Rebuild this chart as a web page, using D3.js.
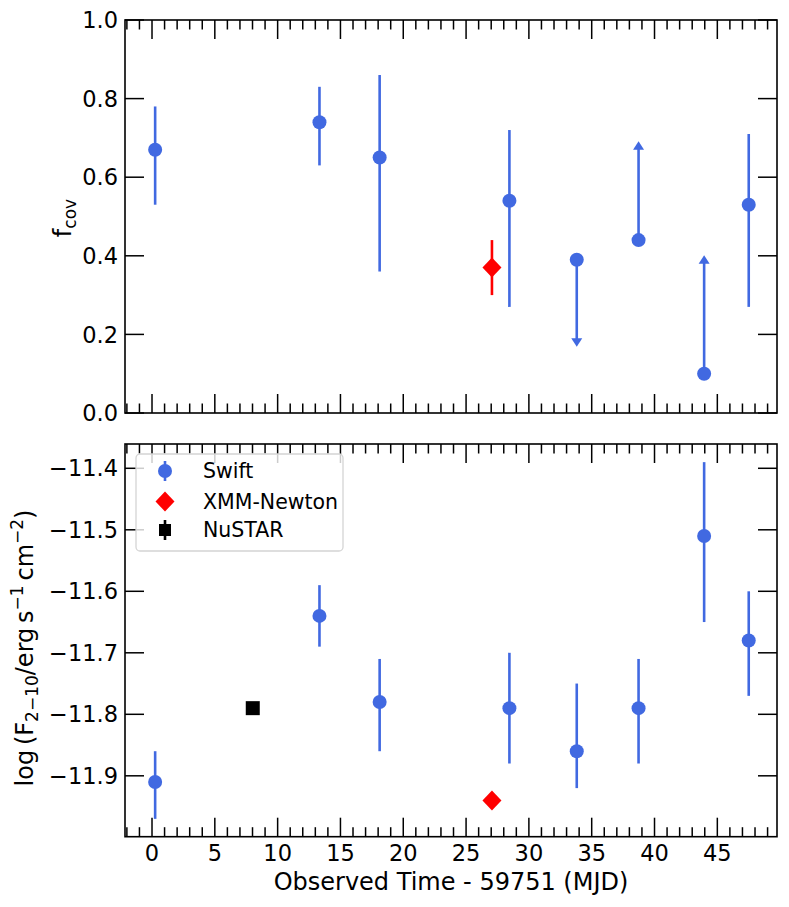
<!DOCTYPE html>
<html>
<head>
<meta charset="utf-8">
<script src="https://cdn.jsdelivr.net/npm/d3@7"></script>
<style>
  body { margin: 0; background: #fff; }
  svg { font-family: "DejaVu Sans", sans-serif; }
</style>
</head>
<body>
<div id="chart"></div>
<script>
// Observed time (days since MJD 59751)
const swiftTime = [0.25, 13.33, 18.12, 28.45, 33.81, 38.73, 43.95, 47.5];
const xmmTime = [27.06];
const nustarTime = [8.02];

// Covering fraction, with limits: 'upper' = arrow down, 'lower' = arrow up
const swiftFcov = [0.67, 0.74, 0.65, 0.54, 0.39, 0.44, 0.10, 0.53];
const swiftFcovLow = [0.53, 0.63, 0.36, 0.27, 0.18, 0.44, 0.10, 0.27];
const swiftFcovHigh = [0.78, 0.83, 0.86, 0.72, 0.39, 0.68, 0.39, 0.71];
const swiftFcovLimit = ['', '', '', '', 'upper', 'lower', 'lower', ''];
const xmmFcov = [0.37];
const xmmFcovLow = [0.30];
const xmmFcovHigh = [0.44];

// log 2-10 keV flux
const swiftFlux = [-11.91, -11.64, -11.78, -11.79, -11.86, -11.79, -11.51, -11.68];
const swiftFluxLow = [-11.97, -11.69, -11.86, -11.88, -11.92, -11.88, -11.65, -11.77];
const swiftFluxHigh = [-11.86, -11.59, -11.71, -11.70, -11.75, -11.71, -11.39, -11.60];
const xmmFlux = [-11.94];
const nustarFlux = [-11.79];

const xTicks = [0, 5, 10, 15, 20, 25, 30, 35, 40, 45];
const fcovTicks = [0, 0.2, 0.4, 0.6, 0.8, 1.0];
const fluxTicks = [-11.9, -11.8, -11.7, -11.6, -11.5, -11.4];
const legendLabels = ['Swift', 'XMM-Newton', 'NuSTAR'];

const width = 789, height = 907;
const left = 125, right = 777;
const blue = '#4169E1', red = '#FF0000';
const tickFont = 22.5, labelFont = 24;

const svg = d3.select('#chart').append('svg')
  .attr('width', width)
  .attr('height', height);

svg.append('rect').attr('width', width).attr('height', height).attr('fill', '#fff');

const x = d3.scaleLinear().domain([-2.15, 49.75]).range([left, right]);
const yTop = d3.scaleLinear().domain([0, 1]).range([413, 20]);
const yBot = d3.scaleLinear().domain([-11.999, -11.3605]).range([836.7, 444]);

const minorX = d3.range(-2, 50, 1);

function drawFrame(y, yTicks, fmt, showXLabels) {
  const [y0, y1] = y.range();
  const g = svg.append('g');
  // x ticks on bottom and top, pointing in
  const major = 19, minor = 9.5;
  minorX.forEach(v => {
    const len = xTicks.includes(v) ? major : minor;
    g.append('line').attr('x1', x(v)).attr('x2', x(v)).attr('y1', y0).attr('y2', y0 - len)
      .attr('stroke', '#000').attr('stroke-width', 1.5);
    g.append('line').attr('x1', x(v)).attr('x2', x(v)).attr('y1', y1).attr('y2', y1 + len)
      .attr('stroke', '#000').attr('stroke-width', 1.5);
  });
  yTicks.forEach(v => {
    g.append('line').attr('x1', left).attr('x2', left + major).attr('y1', y(v)).attr('y2', y(v))
      .attr('stroke', '#000').attr('stroke-width', 1.5);
    g.append('line').attr('x1', right).attr('x2', right - major).attr('y1', y(v)).attr('y2', y(v))
      .attr('stroke', '#000').attr('stroke-width', 1.5);
    g.append('text')
      .attr('x', left - 7).attr('y', y(v)).attr('dy', '0.36em')
      .attr('text-anchor', 'end').attr('font-size', tickFont)
      .text(fmt(v));
  });
  if (showXLabels) {
    xTicks.forEach(v => {
      g.append('text')
        .attr('x', x(v)).attr('y', y0 + 24)
        .attr('text-anchor', 'middle').attr('font-size', tickFont)
        .text(v);
    });
  }
  g.append('rect')
    .attr('x', left).attr('y', y1)
    .attr('width', right - left).attr('height', y0 - y1)
    .attr('fill', 'none').attr('stroke', '#000').attr('stroke-width', 1.6);
}

function errBars(g, xs, lo, hi, y, color) {
  g.selectAll(null).data(xs).enter().append('line')
    .attr('x1', d => x(d)).attr('x2', d => x(d))
    .attr('y1', (d, i) => y(lo[i])).attr('y2', (d, i) => y(hi[i]))
    .attr('stroke', color).attr('stroke-width', 2.6);
}

const circle = d3.symbol().type(d3.symbolCircle).size(Math.PI * 49);
const square = d3.symbol().type(d3.symbolSquare).size(14 * 14);
const diamond = 'M0,-10L9.5,0L0,10L-9.5,0Z';

// ---- top panel: covering fraction ----
drawFrame(yTop, fcovTicks, d3.format('.1f'), false);
const gTop = svg.append('g');
errBars(gTop, swiftTime, swiftFcovLow, swiftFcovHigh, yTop, blue);
errBars(gTop, xmmTime, xmmFcovLow, xmmFcovHigh, yTop, red);

// arrow heads for the limits
swiftTime.forEach((t, i) => {
  const lim = swiftFcovLimit[i];
  if (!lim) return;
  const yv = lim === 'upper' ? yTop(swiftFcovLow[i]) : yTop(swiftFcovHigh[i]);
  const dir = lim === 'upper' ? 1 : -1;
  gTop.append('path')
    .attr('transform', `translate(${x(t)},${yv})`)
    .attr('d', `M-5.5,${-4 * dir}L5.5,${-4 * dir}L0,${4.5 * dir}Z`)
    .attr('fill', blue);
});

gTop.selectAll(null).data(swiftTime).enter().append('path')
  .attr('transform', (d, i) => `translate(${x(d)},${yTop(swiftFcov[i])})`)
  .attr('d', circle).attr('fill', blue);
gTop.selectAll(null).data(xmmTime).enter().append('path')
  .attr('transform', (d, i) => `translate(${x(d)},${yTop(xmmFcov[i])})`)
  .attr('d', diamond).attr('fill', red);

svg.append('text')
  .attr('transform', `translate(71,218) rotate(-90)`)
  .attr('text-anchor', 'middle').attr('font-size', labelFont)
  .call(t => {
    t.append('tspan').text('f');
    t.append('tspan').attr('font-size', 17).attr('dy', 5).text('cov');
  });

// ---- bottom panel: flux ----
drawFrame(yBot, fluxTicks, d3.format('.1f'), true);
const gBot = svg.append('g');
errBars(gBot, swiftTime, swiftFluxLow, swiftFluxHigh, yBot, blue);

gBot.selectAll(null).data(swiftTime).enter().append('path')
  .attr('transform', (d, i) => `translate(${x(d)},${yBot(swiftFlux[i])})`)
  .attr('d', circle).attr('fill', blue);
gBot.selectAll(null).data(xmmTime).enter().append('path')
  .attr('transform', (d, i) => `translate(${x(d)},${yBot(xmmFlux[i])})`)
  .attr('d', diamond).attr('fill', red);
gBot.selectAll(null).data(nustarTime).enter().append('path')
  .attr('transform', (d, i) => `translate(${x(d)},${yBot(nustarFlux[i])})`)
  .attr('d', square).attr('fill', '#000');

svg.append('text')
  .attr('x', 451).attr('y', 890)
  .attr('text-anchor', 'middle').attr('font-size', labelFont)
  .text('Observed Time - 59751 (MJD)');

svg.append('text')
  .attr('transform', `translate(33,648) rotate(-90)`)
  .attr('text-anchor', 'middle').attr('font-size', labelFont)
  .call(t => {
    t.append('tspan').text('log\u2009(F');
    t.append('tspan').attr('font-size', 17).attr('dy', 5).text('2\u221210');
    t.append('tspan').attr('dy', -5).text('/erg\u2009s');
    t.append('tspan').attr('font-size', 17).attr('dy', -10).text('\u22121');
    t.append('tspan').attr('dy', 10).text('\u2009cm');
    t.append('tspan').attr('font-size', 17).attr('dy', -10).text('\u22122');
    t.append('tspan').attr('dy', 10).text(')');
  });

// ---- legend ----
const leg = svg.append('g');
leg.append('rect')
  .attr('x', 136).attr('y', 454).attr('width', 207).attr('height', 97)
  .attr('rx', 4).attr('fill', '#fff').attr('fill-opacity', 0.8)
  .attr('stroke', '#d4d4d4').attr('stroke-width', 1.3);
const legY = [471, 501.5, 530];
const legColor = [blue, red, '#000'];
const legShape = [circle, diamond, d3.symbol().type(d3.symbolSquare).size(12 * 12)()];
legendLabels.forEach((lab, i) => {
  if (i !== 1) {
    leg.append('line')
      .attr('x1', 165).attr('x2', 165).attr('y1', legY[i] - 10).attr('y2', legY[i] + 10)
      .attr('stroke', legColor[i]).attr('stroke-width', 2.6);
  }
  leg.append('path')
    .attr('transform', `translate(165,${legY[i]})`)
    .attr('d', legShape[i])
    .attr('fill', legColor[i]);
  leg.append('text')
    .attr('x', 203).attr('y', legY[i]).attr('dy', '0.36em')
    .attr('font-size', 20.5).text(lab);
});
</script>
</body>
</html>
